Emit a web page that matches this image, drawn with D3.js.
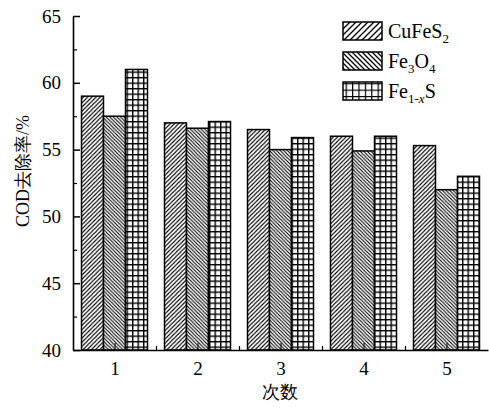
<!DOCTYPE html>
<html><head><meta charset="utf-8">
<script src="https://cdn.jsdelivr.net/npm/d3@7"></script>
<style>body{margin:0;background:#fff}svg{display:block}</style>
</head><body><svg id="c" width="489" height="410"></svg>
<script>
const categories = ["1","2","3","4","5"];
const cufes2 = [59.0, 57.0, 56.5, 56.0, 55.3];
const fe3o4  = [57.5, 56.6, 55.0, 54.9, 52.0];
const fe1xs  = [61.0, 57.1, 55.9, 56.0, 53.0];
const yTicks = [40,45,50,55,60,65];

const seriesList = [
  {key:"CuFeS2", values:cufes2, pat:"p1"},
  {key:"Fe3O4", values:fe3o4, pat:"p2"},
  {key:"Fe1-xS", values:fe1xs, pat:"p3"}
];

const svg = d3.select("#c");
const L=73, R=488, T=16, B=350;
const x = d3.scaleLinear().domain([0.5,5.5]).range([L,R]);
const y = d3.scaleLinear().domain([40,65]).range([B,T]);

const defs = svg.append("defs");
function hatch(id, size, dir, sw){
  const p = defs.append("pattern").attr("id",id).attr("patternUnits","userSpaceOnUse")
    .attr("width",size).attr("height",size);
  p.append("rect").attr("width",size).attr("height",size).attr("fill","#fff");
  const s=size;
  const d = dir>0
    ? `M0,${s} L${s},0 M${-s/2},${s/2} L${s/2},${-s/2} M${s/2},${s*1.5} L${s*1.5},${s/2}`
    : `M0,0 L${s},${s} M${-s/2},${s/2} L${s/2},${s*1.5} M${s/2},${-s/2} L${s*1.5},${s/2}`;
  p.append("path").attr("d",d).attr("stroke","#000").attr("stroke-width",sw);
}
function grid(id,size,sw){
  const p = defs.append("pattern").attr("id",id).attr("patternUnits","userSpaceOnUse")
    .attr("width",size).attr("height",size);
  p.append("rect").attr("width",size).attr("height",size).attr("fill","#fff");
  p.append("path").attr("d",`M0,0 L${size},0 M0,0 L0,${size}`).attr("stroke","#000").attr("stroke-width",sw*2);
}
hatch("p1",4.2,1,1.1);
hatch("p2",3.6,-1,1.1);
grid("p3",5.5,1.4);
hatch("lp1",6,1,1.3);
hatch("lp2",5,-1,1.3);
grid("lp3",6.4,1.2);

const bw = 22;
const g = svg.append("g");
categories.forEach((c,i)=>{
  seriesList.forEach((s,j)=>{
    const cx = x(+c);
    const x0 = cx - 1.5*bw + j*bw;
    g.append("rect").attr("x",x0).attr("y",y(s.values[i]))
      .attr("width",bw).attr("height",y(40)-y(s.values[i]))
      .attr("fill",`url(#${s.pat})`).attr("stroke","#000").attr("stroke-width",1.5);
  });
});

// axes
const font = "'Liberation Serif','Times New Roman',serif";
const yAxis = svg.append("g").attr("transform",`translate(${L},0)`)
  .call(d3.axisLeft(y).tickValues(yTicks).tickSizeInner(-7).tickSizeOuter(0).tickPadding(14));
yAxis.selectAll("line").attr("stroke-width",1.5);
const yMinor = svg.append("g").attr("transform",`translate(${L},0)`)
  .call(d3.axisLeft(y).tickValues([42.5,47.5,52.5,57.5,62.5]).tickSizeInner(-4).tickSizeOuter(0).tickFormat(""));
yMinor.select(".domain").remove();
yMinor.selectAll("line").attr("stroke-width",1.2);

const xAxis = svg.append("g").attr("transform",`translate(0,${B})`)
  .call(d3.axisBottom(x).tickValues(categories.map(Number)).tickFormat((d,i)=>categories[i]).tickSizeInner(-7).tickSizeOuter(0).tickPadding(12));
const xMinor = svg.append("g").attr("transform",`translate(0,${B})`)
  .call(d3.axisBottom(x).tickValues([1.5,2.5,3.5,4.5]).tickSizeInner(-4).tickSizeOuter(0).tickFormat(""));
xMinor.select(".domain").remove();
xMinor.selectAll("line").attr("stroke-width",1.2);
[yAxis,xAxis].forEach(a=>{
  a.select(".domain").attr("stroke-width",1.6);
  a.selectAll("text").attr("font-family",font).attr("font-size",19).attr("fill","#000");
});
xAxis.selectAll("text").attr("dy","0.71em");
yAxis.selectAll("text").attr("dx","2");

svg.append("text").attr("transform","translate(23,171) rotate(-90)")
  .attr("text-anchor","middle").attr("dominant-baseline","central")
  .attr("font-family",font).attr("font-size",18)
  .text("COD去除率/%");
svg.append("text").attr("x",280).attr("y",398).attr("text-anchor","middle")
  .attr("font-family",font).attr("font-size",18).text("次数");

// legend
const lg = svg.append("g");
const legY = [22,52,82];
const labels = [
  [["CuFeS",""],["2","sub"]],
  [["Fe",""],["3","sub"],["O",""],["4","sub"]],
  [["Fe",""],["1-","sub"],["x","subi"],["S",""]]
];
seriesList.forEach((s,j)=>{
  lg.append("rect").attr("x",343).attr("y",legY[j]).attr("width",39).attr("height",18)
    .attr("fill",`url(#l${s.pat})`).attr("stroke","#000").attr("stroke-width",1.5);
  const t = lg.append("text").attr("x",388).attr("y",legY[j]+16)
    .attr("font-family",font).attr("font-size",20);
  labels[j].forEach(([txt,kind])=>{
    const ts = t.append("tspan").text(txt);
    if(kind.startsWith("sub")){
      ts.attr("font-size",13).attr("dy",5);
      if(kind==="subi") ts.attr("font-style","italic");
    }
  });
  let off=0;
  t.selectAll("tspan").each(function(){
    const el=d3.select(this);
    const dy=+el.attr("dy")||0;
    if(dy>0){ if(off>0) el.attr("dy",0); off=5; }
    else if(off>0){ el.attr("dy",-5); off=0; }
  });
});
</script></body></html>
